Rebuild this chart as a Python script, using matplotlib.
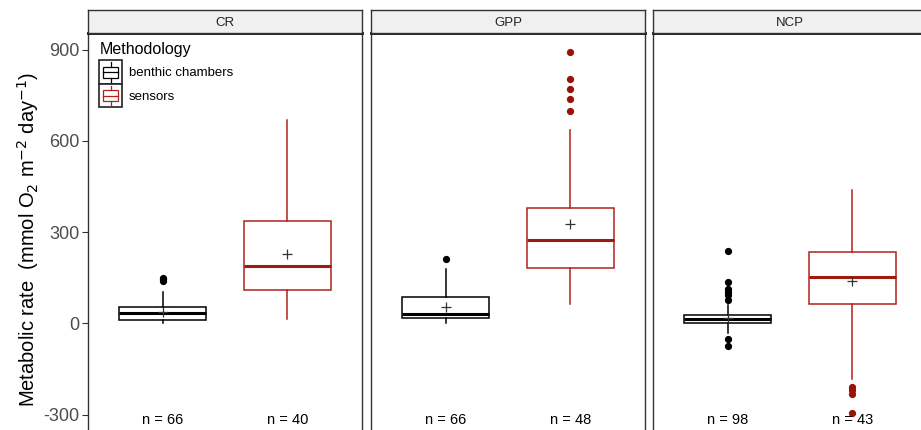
import matplotlib
matplotlib.use('Agg')
import matplotlib.pyplot as plt
from matplotlib.legend_handler import HandlerBase
from matplotlib.patches import Rectangle
from matplotlib.lines import Line2D

plt.rcParams['font.family'] = ['Liberation Sans', 'DejaVu Sans']
plt.rcParams['axes.unicode_minus'] = False

# values (mmol O2 m-2 day-1)
panels = ['CR', 'GPP', 'NCP']
methods = ['benthic chambers', 'sensors']
colors = {'benthic chambers': '#000000', 'sensors': '#B2221B'}
flier_colors = {'benthic chambers': '#000000', 'sensors': '#9B1106'}

q1 = {'CR': [11, 110], 'GPP': [16, 183], 'NCP': [0, 63]}
med = {'CR': [33, 190], 'GPP': [30, 274], 'NCP': [13, 152]}
q3 = {'CR': [55, 336], 'GPP': [85, 378], 'NCP': [27, 234]}
whislo = {'CR': [2, 13], 'GPP': [2, 64], 'NCP': [-31, -183]}
whishi = {'CR': [104, 668], 'GPP': [178, 636], 'NCP': [60, 438]}
means = {'CR': [38, 228], 'GPP': [54, 327], 'NCP': [18, 140]}
outliers = {
    'CR': [[140, 145, 150], []],
    'GPP': [[210], [697, 737, 771, 803, 893]],
    'NCP': [[239, 135, 112, 103, 93, 77, -53, -74], [-208, -219, -233, -296]],
}
counts = {'CR': [66, 40], 'GPP': [66, 48], 'NCP': [98, 43]}

W, H = 921, 430
fig = plt.figure(figsize=(W / 100, H / 100), dpi=100)

ymin, ymax = -400, 955
px_per_unit = 0.30417
y_zero = 323.3
top_px = y_zero - ymax * px_per_unit
bot_px = y_zero - ymin * px_per_unit
lefts = [88, 371, 653]
pw = 274

leg_fs = 9.5
leg_h = 1.6
leg_sp = 0.5


class BoxHandler(HandlerBase):
    def create_artists(self, legend, orig_handle, xdescent, ydescent,
                       width, height, fontsize, trans):
        c = orig_handle.get_color()
        s = height + leg_sp * leg_fs
        x0 = -xdescent + (width - s) / 2
        y0 = -ydescent + (height - s) / 2
        frame = Rectangle((x0, y0), s, s, facecolor='white', edgecolor='#222222',
                          lw=1.2, transform=trans)
        bw = s * 0.62
        bx = x0 + (s - bw) / 2
        box = Rectangle((bx, y0 + s * 0.27), bw, s * 0.46, facecolor='white',
                        edgecolor=c, lw=0.9, transform=trans)
        w1 = Line2D([x0 + s / 2] * 2, [y0 + s * 0.08, y0 + s * 0.27], color=c, lw=0.9, transform=trans)
        w2 = Line2D([x0 + s / 2] * 2, [y0 + s * 0.73, y0 + s * 0.92], color=c, lw=0.9, transform=trans)
        m = Line2D([bx, bx + bw], [y0 + s / 2] * 2, color=c, lw=0.9, transform=trans)
        return [frame, box, w1, w2, m]


for i, p in enumerate(panels):
    ax = fig.add_axes([lefts[i] / W, (H - bot_px) / H, pw / W, (bot_px - top_px) / H])
    for j, m in enumerate(methods):
        st = dict(med=med[p][j], q1=q1[p][j], q3=q3[p][j], whislo=whislo[p][j],
                  whishi=whishi[p][j], mean=means[p][j], fliers=outliers[p][j])
        c = colors[m]
        ax.bxp([st], positions=[j + 1], widths=0.7, showmeans=True, showcaps=False,
               patch_artist=True,
               boxprops=dict(facecolor='white', edgecolor=c, lw=1.1),
               medianprops=dict(color=c if j == 0 else '#A01A12', lw=2.2),
               whiskerprops=dict(color=c, lw=1.1),
               meanprops=dict(marker='+', markeredgecolor='#333333', markersize=6.5, markeredgewidth=0.9),
               flierprops=dict(marker='o', markerfacecolor=flier_colors[m],
                               markeredgecolor=flier_colors[m], markersize=4.2))
        ax.text(j + 1, -318, f'n = {counts[p][j]}', ha='center', va='center', fontsize=10.5)
    ax.set_xlim(0.4, 2.6)
    ax.set_ylim(ymin, ymax)
    ax.set_xticks([])
    for s in ax.spines.values():
        s.set_color('#333333')
        s.set_linewidth(1.0)
    ax.spines['top'].set_color('#111111')
    ax.spines['top'].set_linewidth(2.0)
    if i == 0:
        ax.set_yticks([-300, 0, 300, 600, 900])
        ax.tick_params(axis='y', labelsize=13, length=4, color='#333333', labelcolor='#4D4D4D', pad=2)
        ax.set_ylabel('Metabolic rate  (mmol O$_2$ m$^{-2}$ day$^{-1}$)', fontsize=14.5, labelpad=2)
        handles = [Line2D([], [], color=colors[m]) for m in methods]
        ax.legend(handles, methods, title='Methodology', loc='upper left',
                  handler_map={Line2D: BoxHandler()}, frameon=False, fontsize=leg_fs,
                  title_fontsize=11.5, bbox_to_anchor=(0.01, 1.0), borderaxespad=0.3,
                  handlelength=1.6, handleheight=leg_h, labelspacing=leg_sp, handletextpad=0.6,
                  alignment='left')
    else:
        ax.set_yticks([])
    # facet strip
    sx = fig.add_axes([lefts[i] / W, (H - top_px) / H, pw / W, (top_px - 10) / H])
    sx.set_facecolor('#F0F0F0')
    sx.set_xticks([])
    sx.set_yticks([])
    for s in sx.spines.values():
        s.set_color('#333333')
        s.set_linewidth(1.0)
    sx.text(0.5, 0.42, p, ha='center', va='center', fontsize=9.5, color='#222222',
            transform=sx.transAxes)

fig.savefig('out.png', dpi=100)
